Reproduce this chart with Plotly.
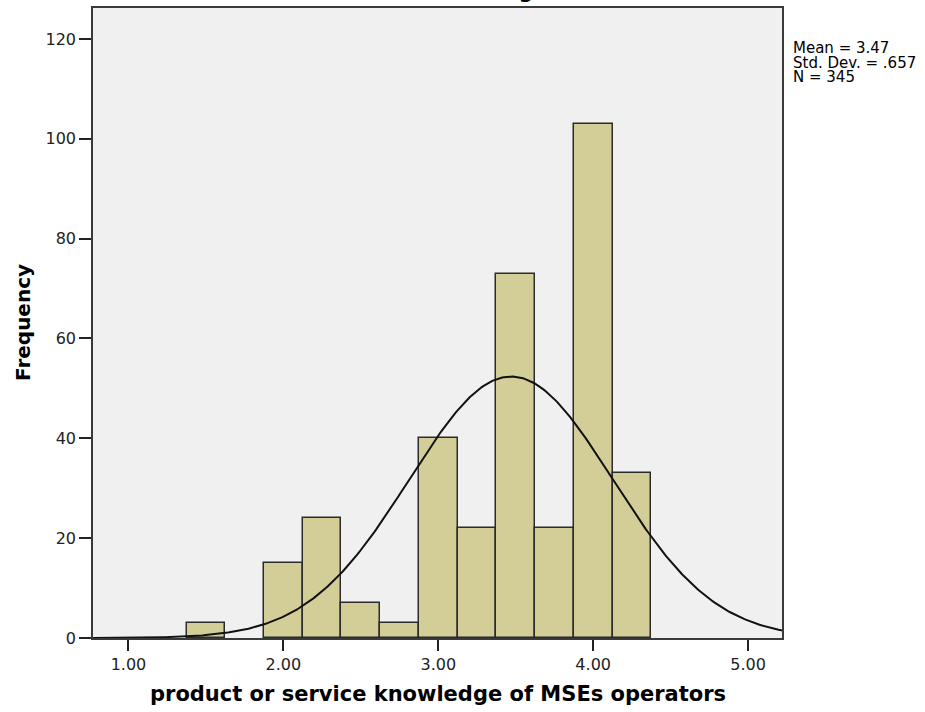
import numpy as np
import plotly.graph_objects as go

# Histogram bins (centres, width 0.25) and their frequencies
bin_centers = [1.50, 2.00, 2.25, 2.50, 2.75, 3.00, 3.25, 3.50, 3.75, 4.00, 4.25]
frequencies = [3, 15, 24, 7, 3, 40, 22, 73, 22, 103, 33]
bin_width = 0.25

# Summary statistics shown beside the plot
mean_value = 3.47
std_dev = 0.657
n_cases = 345

x_ticks = [1.0, 2.0, 3.0, 4.0, 5.0]
x_tick_labels = ["1.00", "2.00", "3.00", "4.00", "5.00"]
y_ticks = [0, 20, 40, 60, 80, 100, 120]

x_range = [0.771, 5.219]
y_range = [0, 126.2]

# Normal curve scaled to the histogram (N * bin width * pdf)
curve_x = np.linspace(x_range[0], x_range[1], 400)
curve_y = (n_cases * bin_width / (std_dev * np.sqrt(2 * np.pi))
           * np.exp(-0.5 * ((curve_x - mean_value) / std_dev) ** 2))

fig = go.Figure()
fig.add_trace(go.Bar(
    x=bin_centers, y=frequencies, width=bin_width,
    marker=dict(color="#d3ce97", line=dict(color="#2b2b2b", width=1.5)),
    showlegend=False,
))
fig.add_trace(go.Scatter(
    x=curve_x, y=curve_y, mode="lines",
    line=dict(color="#111111", width=2), showlegend=False,
))

tick_font = dict(family="DejaVu Sans", size=16, color="#222222")
fig.update_xaxes(
    range=x_range, tickvals=x_ticks, ticktext=x_tick_labels,
    ticks="outside", ticklen=11, tickwidth=2, tickcolor="#222222",
    showline=True, linecolor="#3a3a3a", linewidth=1.5, mirror=True,
    showgrid=False, zeroline=False, tickfont=tick_font,
)
fig.update_yaxes(
    range=y_range, tickvals=y_ticks,
    ticks="outside", ticklen=12, tickwidth=2, tickcolor="#222222",
    showline=True, linecolor="#3a3a3a", linewidth=1.5, mirror=True,
    showgrid=False, zeroline=False, tickfont=tick_font,
)

annotations = [
    dict(text="Histogram", x=0.617, y=1, xref="paper", yref="paper",
         xanchor="center", yanchor="bottom", yshift=3, showarrow=False,
         font=dict(family="DejaVu Sans", size=20, color="#000000", weight="bold")),
    dict(text="Frequency", x=0, y=0.5, xref="paper", yref="paper",
         xanchor="center", yanchor="middle", xshift=-70, textangle=-90,
         showarrow=False,
         font=dict(family="DejaVu Sans", size=20, color="#000000", weight="bold")),
    dict(text="product or service knowledge of MSEs operators", x=0.5, y=0,
         xref="paper", yref="paper", xanchor="center", yanchor="middle",
         yshift=-56, showarrow=False,
         font=dict(family="DejaVu Sans", size=21, color="#000000", weight="bold")),
]
stats_lines = [f"Mean = {mean_value:.2f}",
               f"Std. Dev. = {std_dev:.3f}".replace("0.", "."),
               f"N = {n_cases}"]
for i, line in enumerate(stats_lines):
    annotations.append(dict(
        text=line, x=1, y=1, xref="paper", yref="paper",
        xanchor="left", yanchor="middle", xshift=10, yshift=-40 - 14.5 * i,
        showarrow=False, borderpad=0,
        font=dict(family="DejaVu Sans", size=15, color="#000000"),
    ))

fig.update_layout(
    width=925, height=712,
    margin=dict(l=93, r=143, t=8, b=74, autoexpand=False),
    paper_bgcolor="#ffffff", plot_bgcolor="#f0f0f0",
    bargap=0, annotations=annotations,
)

fig.write_html("out.html")
